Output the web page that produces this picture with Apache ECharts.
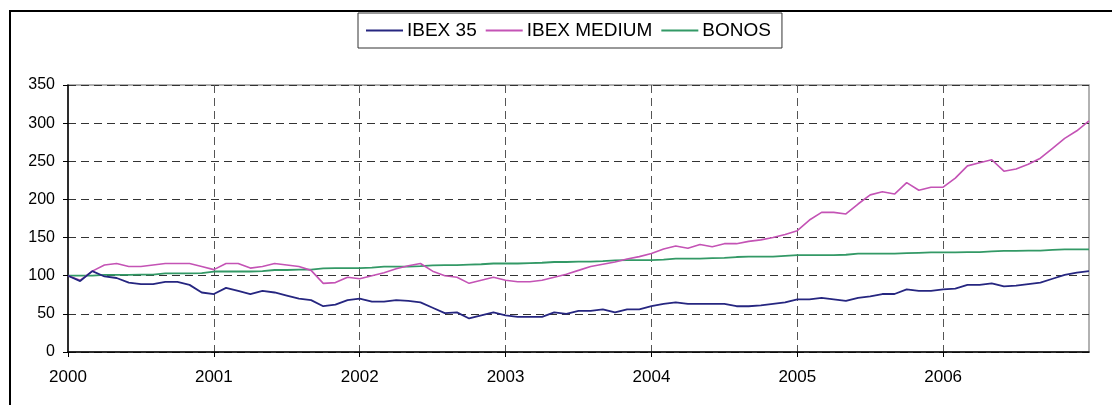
<!DOCTYPE html>
<html>
<head>
<meta charset="utf-8">
<script src="https://cdn.jsdelivr.net/npm/echarts@6/dist/echarts.min.js"></script>
<style>
html,body{margin:0;padding:0;background:#fff;}
#chart{width:1112px;height:405px;}
</style>
</head>
<body>
<div id="chart"></div>
<script>
// Monthly index values, Jan 2000 .. Jan 2007 (base 100)
var startYear = 2000;
var yearLabels = ['2000', '2001', '2002', '2003', '2004', '2005', '2006'];
var seriesNames = ['IBEX 35', 'IBEX MEDIUM', 'BONOS'];
var ibex35 = [
  100, 93, 106, 99, 97, 91, 89, 89, 92, 92,
  88, 78, 76, 84, 80, 76, 80, 78, 74, 70,
  68, 60, 62, 68, 70, 66, 66, 68, 67, 65,
  58, 51, 52, 44, 48, 52, 48, 46, 46, 46,
  52, 50, 54, 54, 56, 52, 56, 56, 60, 63,
  65, 63, 63, 63, 63, 60, 60, 61, 63, 65,
  69, 69, 71, 69, 67, 71, 73, 76, 76, 82,
  80, 80, 82, 83, 88, 88, 90, 86, 87, 89,
  91, 96, 101, 104, 106
];
var ibexMedium = [
  100, 94, 106, 114, 116, 112, 112, 114, 116, 116,
  116, 112, 108, 116, 116, 110, 112, 116, 114, 112,
  107, 90, 91, 98, 96, 100, 104, 109, 113, 116,
  106, 100, 98, 90, 94, 98, 94, 92, 92, 94,
  98, 102, 107, 112, 115, 118, 122, 125, 129, 135,
  139, 136, 141, 138, 142, 142, 145, 147, 150, 154,
  159, 173, 183, 183, 181, 194, 206, 210, 207, 222,
  212, 216, 216, 228, 244, 248, 252, 237, 240, 246,
  254, 267, 280, 290, 303
];
var bonos = [
  100, 100, 100, 101, 101, 101, 101.5, 101.5, 103, 103,
  103, 103.5, 105.5, 105.5, 105.5, 105.5, 106, 107.5, 107.5, 108,
  108, 109.5, 110, 110, 110, 110.5, 112, 112, 112, 112.5,
  113.5, 114, 114, 114.5, 115, 116, 116, 116, 116.5, 117,
  118, 118, 118.5, 118.5, 119, 120, 120.5, 120.5, 120.5, 121,
  122.5, 122.5, 122.5, 123, 123.5, 124.5, 125, 125, 125, 126,
  127, 127, 127, 127, 127.5, 129, 129, 129, 129, 129.5,
  130, 130.5, 130.5, 130.5, 131, 131, 132, 132.5, 132.5, 133,
  133, 134, 134.5, 134.5, 134.5
];

var months = [];
for (var i = 0; i < ibex35.length; i++) {
  months.push(String(startYear + Math.floor(i / 12)) + '-' + String(i % 12 + 1).padStart(2, '0'));
}

var font = '"Liberation Sans", Arial, sans-serif';
function isYearLabel(idx) {
  return idx % 12 === 0 && (idx / 12) < yearLabels.length;
}

var chart = echarts.init(document.getElementById('chart'), null, {renderer: 'canvas'});
chart.setOption({
  animation: false,
  backgroundColor: '#fff',
  color: ['#262680', '#C453B5', '#339966'],
  graphic: [{
    type: 'rect',
    shape: {x: 10, y: 11, width: 1200, height: 500},
    style: {fill: null, stroke: '#000', lineWidth: 2},
    silent: true,
    z: 0
  }],
  legend: {
    data: seriesNames,
    icon: 'rect',
    left: 358,
    top: 13,
    padding: [8, 11, 8, 8],
    itemGap: 9,
    itemWidth: 37,
    itemHeight: 2,
    borderColor: '#333',
    borderWidth: 1,
    backgroundColor: '#fff',
    textStyle: {fontFamily: font, fontSize: 19, color: '#000', padding: [0, 0, 0, -1], lineHeight: 14}
  },
  grid: {
    left: 68, right: 23, top: 85, bottom: 53,
    show: true, borderColor: '#999', borderWidth: 1.5, backgroundColor: '#fff'
  },
  xAxis: {
    type: 'category',
    data: months,
    boundaryGap: false,
    axisLine: {lineStyle: {color: '#000', width: 1.5}},
    axisTick: {show: true, interval: function (idx) { return isYearLabel(idx); }, length: 5, lineStyle: {color: '#000'}},
    axisLabel: {
      interval: function (idx) { return isYearLabel(idx); },
      formatter: function (v, idx) { return yearLabels[Math.floor(idx / 12)] || ''; },
      fontFamily: font, fontSize: 17, color: '#000', margin: 17
    },
    splitLine: {
      show: true,
      interval: function (idx) { return isYearLabel(idx) && idx > 0; },
      lineStyle: {color: '#555', width: 1, type: [8, 5]}
    }
  },
  yAxis: {
    type: 'value',
    min: 0, max: 350, interval: 50,
    axisLine: {show: true, lineStyle: {color: '#000', width: 1.5}},
    axisTick: {show: true, length: 5, lineStyle: {color: '#000'}},
    axisLabel: {fontFamily: font, fontSize: 16, color: '#000', margin: 13},
    splitLine: {show: true, lineStyle: {color: '#333', width: 1, type: [8, 5]}}
  },
  series: [
    {name: seriesNames[0], type: 'line', data: ibex35, symbol: 'none', lineStyle: {width: 1.8}, z: 4},
    {name: seriesNames[1], type: 'line', data: ibexMedium, symbol: 'none', lineStyle: {width: 1.6}, z: 3},
    {name: seriesNames[2], type: 'line', data: bonos, symbol: 'none', lineStyle: {width: 1.8}, z: 2}
  ]
});
</script>
</body>
</html>
